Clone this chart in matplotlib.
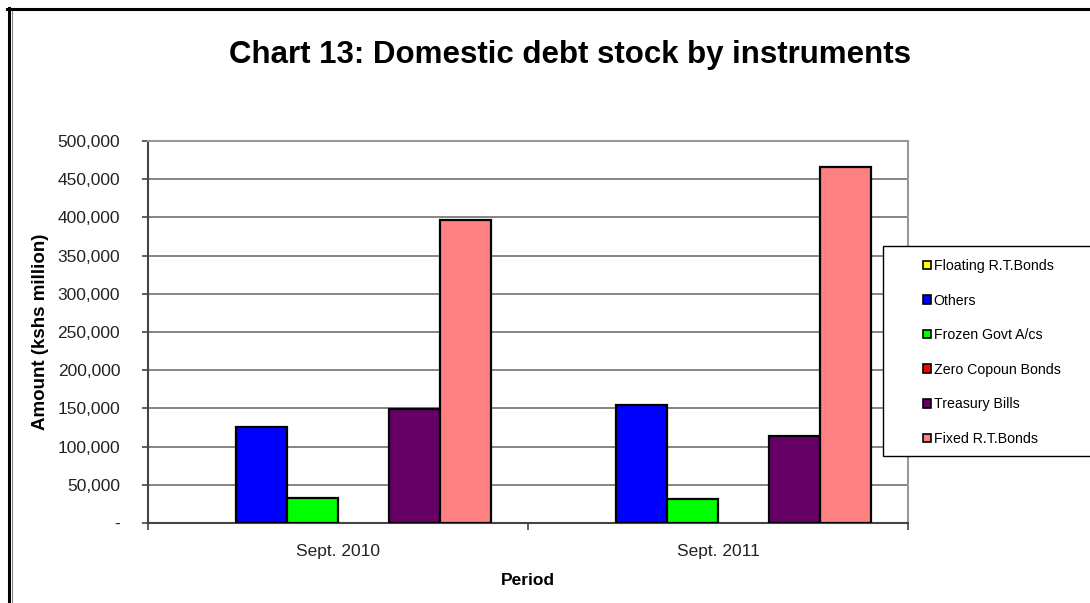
import matplotlib
matplotlib.use("Agg")
import matplotlib.pyplot as plt
import numpy as np
from matplotlib.patches import Rectangle, Patch
from matplotlib.lines import Line2D

plt.rcParams['font.family'] = ['Liberation Sans', 'DejaVu Sans']

periods = ["Sept. 2010", "Sept. 2011"]
series_names = ["Floating R.T.Bonds", "Others", "Frozen Govt A/cs",
                "Zero Copoun Bonds", "Treasury Bills", "Fixed R.T.Bonds"]
floating = [0, 0]
others = [126000, 154000]
frozen = [33000, 31000]
zero_coupon = [0, 0]
treasury = [149000, 114000]
fixed = [397000, 466000]
colors = ["#FFFF00", "#0000FF", "#00FF00", "#FF0000", "#660066", "#FF8080"]
yticks = [0, 50000, 100000, 150000, 200000, 250000, 300000, 350000, 400000, 450000, 500000]
ytick_labels = ["-", "50,000", "100,000", "150,000", "200,000", "250,000",
                "300,000", "350,000", "400,000", "450,000", "500,000"]

W, H = 1090, 603
fig = plt.figure(figsize=(W / 100, H / 100), dpi=100)
fig.patch.set_facecolor("white")

# outer frame (top and left double border)
fig.add_artist(Line2D([7 / W, 1], [1 - 8.5 / H, 1 - 8.5 / H], color="black", lw=2.2, transform=fig.transFigure))
fig.add_artist(Line2D([8.5 / W, 8.5 / W], [0, 1 - 7.5 / H], color="black", lw=2.2, transform=fig.transFigure))
fig.add_artist(Line2D([11.5 / W, 11.5 / W], [0, 1 - 11 / H], color="#888888", lw=0.8, transform=fig.transFigure))

ax = fig.add_axes([148 / W, 1 - 523 / H, 760 / W, 382 / H])
x = np.arange(len(periods))
bw = 0.134
data = [floating, others, frozen, zero_coupon, treasury, fixed]
handles = []
for i, (name, vals, c) in enumerate(zip(series_names, data, colors)):
    b = ax.bar(x + (i - 2.5) * bw, vals, width=bw, color=c, edgecolor="black",
               linewidth=1.6, label=name, zorder=3)
    for p, v in zip(b.patches, vals):
        if v == 0:
            p.set_visible(False)
    handles.append(Patch(facecolor=c, edgecolor="black", linewidth=1.2, label=name))

ax.set_xlim(-0.5, 1.5)
ax.set_ylim(0, 500000)
ax.set_yticks(yticks)
ax.set_yticklabels(ytick_labels, fontsize=12.5, color="#222222")
ax.set_xticks(x)
ax.set_xticklabels(periods, fontsize=12.5, color="#222222")
ax.tick_params(axis="x", which="major", length=0, pad=15)
ax.set_xticks([-0.5, 0.5, 1.5], minor=True)
ax.tick_params(axis="x", which="minor", length=5, width=1.2, color="#444444")
ax.tick_params(axis="y", length=4, width=1.2, color="#444444", pad=16)
ax.yaxis.grid(True, color="#707070", linewidth=1.2, zorder=0)
ax.set_axisbelow(True)
for s in ["top", "right"]:
    ax.spines[s].set_color("#999999")
    ax.spines[s].set_linewidth(1.5)
for s in ["left", "bottom"]:
    ax.spines[s].set_color("#444444")
    ax.spines[s].set_linewidth(1.5)

ax.set_ylabel("Amount (kshs million)", fontsize=13.5, fontweight="bold", labelpad=6)
ax.set_xlabel("Period", fontsize=12.5, fontweight="bold", labelpad=10)

fig.text(570 / W, 1 - 55 / H, "Chart 13: Domestic debt stock by instruments",
         ha="center", va="center", fontsize=22.5, fontweight="bold")

# legend box
fig.add_artist(Rectangle((883 / W, 1 - 456 / H), 220 / W, 210 / H, transform=fig.transFigure,
                         facecolor="white", edgecolor="black", linewidth=1.0, zorder=5))
leg = fig.legend(handles=handles, labels=series_names, loc="upper left",
                 bbox_to_anchor=(916 / W, 1 - 252 / H), frameon=False,
                 fontsize=10.2, handlelength=0.55, handleheight=0.55,
                 handletextpad=0.2, labelspacing=1.45, borderpad=0)
leg.set_zorder(6)

fig.savefig("out.png", dpi=100)
